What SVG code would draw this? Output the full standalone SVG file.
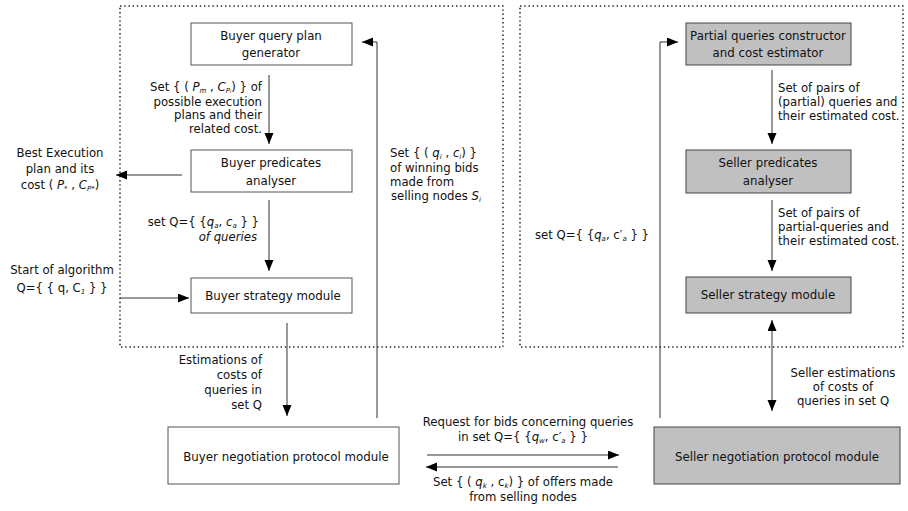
<svg xmlns="http://www.w3.org/2000/svg" width="908" height="511" viewBox="0 0 908 511">
<style>
text{font-family:"DejaVu Sans","Liberation Sans",sans-serif;font-size:11.8px;fill:#111}
.lab{font-size:11.7px}
.box{fill:#fff;stroke:#555;stroke-width:1}
.gbox{fill:#c0c0c0;stroke:#444;stroke-width:1}
.grp{fill:none;stroke:#222;stroke-width:1.5;stroke-dasharray:1.4 2.8}
.c{stroke:#333;stroke-width:1;fill:none}
.m{text-anchor:middle}
.e{text-anchor:end}
.i{font-style:italic}
.s{font-size:7px;font-style:italic}
</style>
<defs>
<marker id="ah" markerUnits="userSpaceOnUse" markerWidth="12" markerHeight="10" refX="11" refY="4.5" orient="auto">
<path d="M0,0 L11,4.5 L0,9 z" fill="#000"/>
</marker>
</defs>
<rect width="908" height="511" fill="#fff"/>

<g id="groups">
<rect class="grp" x="120" y="6" width="383" height="341"/>
<rect class="grp" x="520" y="6" width="383" height="341"/>
</g>

<g id="connectors">
<line class="c" x1="269" y1="75" x2="269" y2="144" marker-end="url(#ah)"/>
<line class="c" x1="269" y1="200" x2="269" y2="271" marker-end="url(#ah)"/>
<line class="c" x1="182" y1="175" x2="116" y2="175" marker-end="url(#ah)"/>
<line class="c" x1="120" y1="298" x2="189" y2="298" marker-end="url(#ah)"/>
<line class="c" x1="287" y1="323" x2="287" y2="416" marker-end="url(#ah)"/>
<polyline class="c" points="377,418 377,42 362,42" marker-end="url(#ah)"/>
<line class="c" x1="772" y1="70" x2="772" y2="144" marker-end="url(#ah)"/>
<line class="c" x1="772" y1="200" x2="772" y2="271" marker-end="url(#ah)"/>
<polyline class="c" points="660,418 660,42 678,42" marker-end="url(#ah)"/>
<line class="c" x1="772" y1="366" x2="772" y2="320" marker-end="url(#ah)"/>
<line class="c" x1="772" y1="366" x2="772" y2="411" marker-end="url(#ah)"/>
<line class="c" x1="427" y1="455" x2="619" y2="455" marker-end="url(#ah)"/>
<line class="c" x1="618" y1="467" x2="426" y2="467" marker-end="url(#ah)"/>
</g>

<g id="buyer-query-plan-generator">
<rect class="box" x="191" y="23" width="161" height="42"/>
<text class="m" x="271" y="40">Buyer query plan</text>
<text class="m" x="271" y="57">generator</text>
</g>
<g id="buyer-predicates-analyser">
<rect class="box" x="191" y="150" width="161" height="42"/>
<text class="m" x="271" y="167">Buyer predicates</text>
<text class="m" x="271" y="185">analyser</text>
</g>
<g id="buyer-strategy-module">
<rect class="box" x="191" y="278" width="161" height="35"/>
<text class="m" x="273" y="300">Buyer strategy module</text>
</g>
<g id="buyer-negotiation-protocol-module">
<rect class="box" x="168" y="427" width="231" height="57"/>
<text class="m" x="286" y="461">Buyer negotiation protocol module</text>
</g>
<g id="partial-queries-constructor">
<rect class="gbox" x="686" y="23" width="165" height="42"/>
<text class="m" x="768" y="40">Partial queries constructor</text>
<text class="m" x="768" y="57">and cost estimator</text>
</g>
<g id="seller-predicates-analyser">
<rect class="gbox" x="686" y="150" width="165" height="43"/>
<text class="m" x="768" y="167">Seller predicates</text>
<text class="m" x="768" y="185">analyser</text>
</g>
<g id="seller-strategy-module">
<rect class="gbox" x="686" y="277" width="165" height="36"/>
<text class="m" x="768" y="299">Seller strategy module</text>
</g>
<g id="seller-negotiation-protocol-module">
<rect class="gbox" x="654" y="427" width="246" height="57"/>
<text class="m" x="777" y="461">Seller negotiation protocol module</text>
</g>

<g id="labels">
<text class="e lab" x="262" y="91">Set { ( <tspan class="i">P</tspan><tspan class="s" baseline-shift="-1.5">m</tspan> , <tspan class="i">C</tspan><tspan class="s" baseline-shift="-1.5">P<tspan font-size="5">i</tspan></tspan>) } of</text>
<text class="e lab" x="262" y="105.5">possible execution</text>
<text class="e lab" x="262" y="119">plans and their</text>
<text class="e lab" x="262" y="132.5">related cost.</text>

<text class="m lab" x="60" y="157">Best Execution</text>
<text class="m lab" x="60" y="173">plan and its</text>
<text class="m lab" x="60" y="189">cost ( <tspan class="i">P</tspan><tspan class="s" baseline-shift="-1.5">*</tspan> , <tspan class="i">C</tspan><tspan class="s" baseline-shift="-1.5">P*</tspan>)</text>

<text class="e lab" x="259" y="226">set Q={ {<tspan class="i">q</tspan><tspan class="s" baseline-shift="-1.5">a</tspan>, <tspan class="i">c</tspan><tspan class="s" baseline-shift="-1.5">a</tspan> } }</text>
<text class="e lab i" x="257" y="241">of queries</text>

<text class="m lab" x="62" y="274">Start of algorithm</text>
<text class="m lab" x="62" y="292">Q={ { q, C<tspan class="s" baseline-shift="-1.5">1</tspan> } }</text>

<text class="e lab" x="262" y="364">Estimations of</text>
<text class="e lab" x="262" y="379">costs of</text>
<text class="e lab" x="262" y="394">queries in</text>
<text class="e lab" x="262" y="409">set Q</text>

<text class="lab" x="390" y="157">Set { ( <tspan class="i">q</tspan><tspan class="s" baseline-shift="-1.5">i</tspan> , <tspan class="i">c</tspan><tspan class="s" baseline-shift="-1.5">i</tspan>) }</text>
<text class="lab" x="390" y="172">of  winning bids</text>
<text class="lab" x="390" y="186">made from</text>
<text class="lab" x="391" y="200">selling nodes <tspan class="i">S</tspan><tspan class="s" baseline-shift="-1.5">i</tspan></text>

<text class="lab" x="535" y="239">set Q={ {<tspan class="i">q</tspan><tspan class="s" baseline-shift="-1.5">a</tspan>, c′<tspan class="s" baseline-shift="-1.5">a</tspan> } }</text>

<text class="lab" x="778" y="92">Set of pairs of</text>
<text class="lab" x="778" y="106">(partial) queries and</text>
<text class="lab" x="778" y="120">their  estimated cost.</text>

<text class="lab" x="778" y="217">Set of pairs of</text>
<text class="lab" x="778" y="231">partial-queries and</text>
<text class="lab" x="778" y="245">their  estimated cost.</text>

<text class="m lab" x="843" y="377">Seller estimations</text>
<text class="m lab" x="843" y="391">of costs of</text>
<text class="m lab" x="843" y="405">queries in set Q</text>

<text class="m lab" x="528" y="426">Request for bids concerning queries</text>
<text class="m lab" x="523" y="441">in set Q={ {<tspan class="i">q</tspan><tspan class="s" baseline-shift="-1.5">w</tspan>, c′<tspan class="s" baseline-shift="-1.5">a</tspan> } }</text>
<text class="m lab" x="523" y="486">Set { ( <tspan class="i">q</tspan><tspan class="s" baseline-shift="-1.5">k</tspan> , c<tspan class="s" baseline-shift="-1.5">k</tspan>) } of offers made</text>
<text class="m lab" x="523" y="501">from selling nodes</text>
</g>
</svg>
